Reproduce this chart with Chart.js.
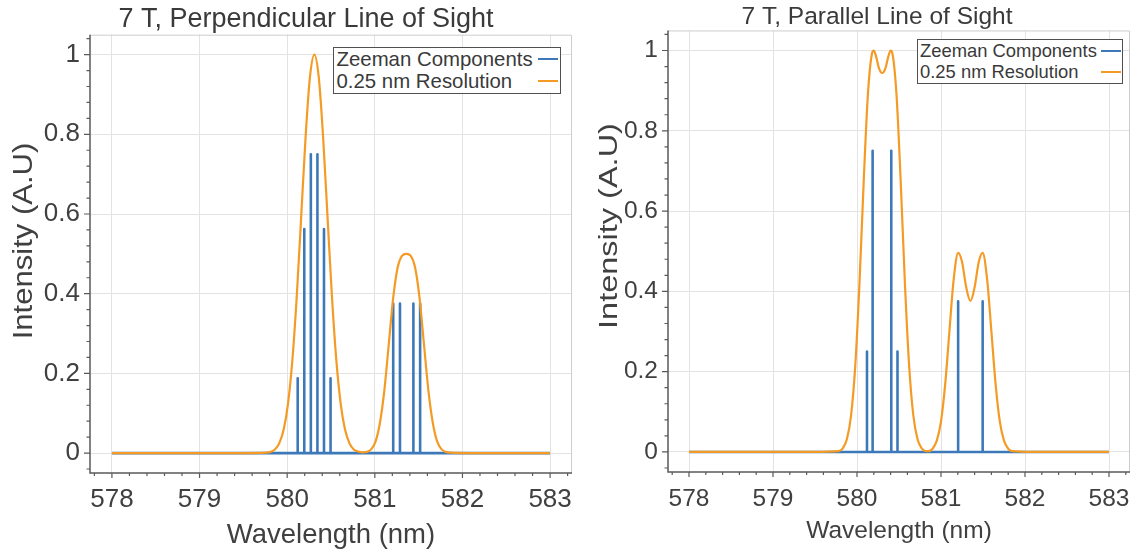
<!DOCTYPE html>
<html>
<head>
<meta charset="utf-8">
<script src="https://cdn.jsdelivr.net/npm/chart.js@4.4.1/dist/chart.umd.min.js"></script>
<style>
  html, body { margin: 0; padding: 0; background: #fff; overflow: hidden; width: 1145px; height: 554px; }
  canvas { position: absolute; top: 0; }
  #chartL { left: 0; }
  #chartR { left: 590px; }
  .legend { position: absolute; box-sizing: border-box; border: 1.5px solid #505050; background: #fff;
            font-family: "Liberation Sans", Arial, sans-serif; color: #3a3a3a; }
  .legend .row { display: flex; align-items: center; justify-content: space-between; white-space: nowrap; }
  .legend .swatch { display: inline-block; width: 20px; height: 2px; }
  #legendL { left: 333px; top: 47px; width: 228px; font-size: 20.4px; line-height: 22px; padding: 0 2px 1px 2.5px; }
  #legendR { left: 917px; top: 39px; width: 206px; font-size: 18.4px; line-height: 21px; padding: 0 1.5px 1px 2px; }
</style>
</head>
<body>
<canvas id="chartL" width="612" height="554"></canvas>
<canvas id="chartR" width="574" height="554"></canvas>
<div class="legend" id="legendL"></div>
<div class="legend" id="legendR"></div>
<script>
// tick labels
const xTicks = [578, 579, 580, 581, 582, 583];
const yTicks = [0, 0.2, 0.4, 0.6, 0.8, 1];

// 7 T, perpendicular: Zeeman components
const perpLineNm = [580.12, 580.195, 580.27, 580.345, 580.42, 580.495, 581.21, 581.287, 581.44, 581.517];
const perpLineInt = [0.1875, 0.5625, 0.75, 0.75, 0.5625, 0.1875, 0.375, 0.375, 0.375, 0.375];

// 7 T, perpendicular: 0.25 nm resolution
const perpResNm = [578, 579.5, 579.76, 579.81, 579.86, 579.91, 579.96, 580.01, 580.06, 580.11, 580.16, 580.21,
  580.26, 580.31, 580.36, 580.41, 580.46, 580.51, 580.56, 580.61, 580.66, 580.71, 580.76, 580.81,
  580.86, 580.91, 580.96, 581.01, 581.06, 581.11, 581.16, 581.21, 581.26, 581.31, 581.36, 581.41,
  581.46, 581.51, 581.56, 581.61, 581.66, 581.71, 581.76, 581.81, 581.86, 582.1, 583];
const perpResInt = [0, 0, 0.001, 0.003, 0.009, 0.025, 0.059, 0.125, 0.235, 0.396, 0.594, 0.793,
  0.944, 1, 0.944, 0.793, 0.594, 0.396, 0.235, 0.125, 0.059, 0.025, 0.009, 0.004,
  0.002, 0.003, 0.01, 0.03, 0.078, 0.16, 0.275, 0.39, 0.465, 0.495, 0.5, 0.495,
  0.465, 0.39, 0.275, 0.16, 0.078, 0.03, 0.01, 0.003, 0.001, 0, 0];

// 7 T, parallel: Zeeman components
const paraLineNm = [580.119, 580.186, 580.408, 580.482, 581.204, 581.496];
const paraLineInt = [0.25, 0.75, 0.75, 0.25, 0.375, 0.375];

// 7 T, parallel: 0.25 nm resolution
const paraResNm = [578, 579.5, 579.78, 579.83, 579.88, 579.93, 579.98, 580.03, 580.08, 580.13, 580.18, 580.2,
  580.23, 580.26, 580.3, 580.34, 580.37, 580.4, 580.42, 580.47, 580.52, 580.57, 580.62, 580.67,
  580.72, 580.77, 580.82, 580.85, 580.9, 580.95, 581.0, 581.05, 581.1, 581.15, 581.204, 581.25,
  581.3, 581.35, 581.4, 581.45, 581.496, 581.55, 581.6, 581.65, 581.7, 581.75, 581.8, 581.85, 582.1, 583];
const paraResInt = [0, 0, 0.002, 0.009, 0.032, 0.092, 0.217, 0.422, 0.675, 0.891, 0.994, 1,
  0.983, 0.957, 0.944, 0.957, 0.983, 1, 0.994, 0.891, 0.675, 0.422, 0.217, 0.092,
  0.032, 0.009, 0.002, 0.002, 0.008, 0.028, 0.076, 0.169, 0.3, 0.428, 0.496, 0.474,
  0.41, 0.376, 0.41, 0.474, 0.496, 0.428, 0.3, 0.169, 0.076, 0.028, 0.008, 0.002, 0, 0];

const FONT = '"Liberation Sans", Arial, sans-serif';
const BLUE = '#3d79b9';
const ORANGE = '#f49b25';
const TEXT = '#404040';

Chart.defaults.font.family = FONT;
Chart.defaults.color = TEXT;

// sticks: baseline at 0 with one vertical line per component
function stickPoints(nm, val) {
  const pts = [{ x: xTicks[0], y: 0 }];
  nm.forEach((w, i) => {
    pts.push({ x: w, y: 0 }, { x: w, y: val[i] }, { x: w, y: 0 });
  });
  pts.push({ x: xTicks[xTicks.length - 1], y: 0 });
  return pts;
}

function curvePoints(nm, val) {
  return nm.map((w, i) => ({ x: w, y: val[i] }));
}

// frame, spines, major/minor ticks and the rotated y title
const frameAxes = {
  id: 'frameAxes',
  afterDraw(chart, args, o) {
    const { ctx, chartArea: a, scales: { x, y } } = chart;
    ctx.save();
    ctx.strokeStyle = '#cdcdcd';
    ctx.lineWidth = 1;
    ctx.beginPath();
    ctx.moveTo(a.left, a.top + 0.5);
    ctx.lineTo(a.right - 0.5, a.top + 0.5);
    ctx.lineTo(a.right - 0.5, a.bottom);
    ctx.stroke();

    ctx.strokeStyle = '#5a5a5a';
    ctx.lineWidth = 1.5;
    ctx.beginPath();
    ctx.moveTo(a.left, a.top);
    ctx.lineTo(a.left, a.bottom);
    ctx.lineTo(a.right, a.bottom);
    ctx.stroke();

    ctx.lineWidth = 1.2;
    ctx.beginPath();
    for (let v = 577.8; v < x.max; v += 0.2) {
      const px = x.getPixelForValue(v);
      const major = Math.abs(v - Math.round(v)) < 1e-6;
      ctx.moveTo(px, a.bottom);
      ctx.lineTo(px, a.bottom + (major ? 5 : 3));
    }
    for (let v = -0.04; v < y.max; v += 0.04) {
      const py = y.getPixelForValue(v);
      const major = Math.abs(v * 5 - Math.round(v * 5)) < 1e-6;
      ctx.moveTo(a.left, py);
      ctx.lineTo(a.left - (major ? 6 : 3.5), py);
    }
    ctx.stroke();

    ctx.translate(o.titleX, o.titleY);
    ctx.rotate(-Math.PI / 2);
    ctx.scale(o.stretch, 1);
    ctx.font = o.titleSize + 'px ' + FONT;
    ctx.fillStyle = TEXT;
    ctx.textAlign = 'center';
    ctx.textBaseline = 'middle';
    ctx.fillText(o.text, 0, 0);
    ctx.restore();
  }
};

function makeChart(id, cfg) {
  const ctx = document.getElementById(id).getContext('2d');
  return new Chart(ctx, {
    type: 'scatter',
    data: {
      datasets: [{
        label: 'Zeeman Components',
        data: stickPoints(cfg.lineNm, cfg.lineInt),
        showLine: true,
        borderColor: BLUE,
        borderWidth: 2.6,
        borderJoinStyle: 'round',
        pointRadius: 0,
        order: 2
      }, {
        label: '0.25 nm Resolution',
        data: curvePoints(cfg.resNm, cfg.resInt),
        showLine: true,
        borderColor: ORANGE,
        borderWidth: 2.2,
        cubicInterpolationMode: 'monotone',
        pointRadius: 0,
        order: 1
      }]
    },
    options: {
      responsive: false,
      animation: false,
      events: [],
      layout: { padding: 0 },
      plugins: {
        legend: { display: false },
        tooltip: { enabled: false },
        title: {
          display: true,
          text: cfg.title,
          color: '#3a3a3a',
          font: { size: cfg.titleSize, weight: 'normal', lineHeight: 1.1 },
          padding: { top: cfg.titlePad, bottom: 0 }
        },
        frameAxes: {
          text: 'Intensity (A.U)',
          titleX: cfg.yTitleX,
          titleY: cfg.yTitleY,
          titleSize: cfg.yTitleSize,
          stretch: cfg.yTitleStretch
        }
      },
      scales: {
        x: {
          type: 'linear',
          min: 577.75,
          max: 583.25,
          afterBuildTicks: s => { s.ticks = xTicks.map(v => ({ value: v })); },
          afterFit: s => { s.height = cfg.xHeight; },
          ticks: {
            autoSkip: false,
            maxRotation: 0,
            padding: cfg.xTickPad,
            color: TEXT,
            font: { size: cfg.tickSize },
            callback: v => String(v)
          },
          grid: { color: '#e3e3e3', drawTicks: false },
          border: { display: false },
          title: {
            display: true,
            text: 'Wavelength (nm)',
            color: TEXT,
            font: { size: cfg.xTitleSize },
            padding: { top: 0, bottom: cfg.xTitlePad }
          }
        },
        y: {
          type: 'linear',
          min: -0.05,
          max: 1.05,
          afterBuildTicks: s => { s.ticks = yTicks.map(v => ({ value: v })); },
          afterFit: s => { s.width = cfg.yWidth; },
          ticks: {
            padding: 10,
            color: TEXT,
            font: { size: cfg.tickSize },
            callback: v => String(v)
          },
          grid: { color: '#e3e3e3', drawTicks: false },
          border: { display: false }
        },
        filler: {
          type: 'linear',
          position: 'right',
          afterFit: s => { s.width = cfg.rightPad; },
          ticks: { display: false },
          grid: { display: false, drawTicks: false },
          border: { display: false }
        }
      }
    },
    plugins: [frameAxes]
  });
}

function buildLegend(id, chart) {
  const el = document.getElementById(id);
  chart.data.datasets.forEach(ds => {
    const row = document.createElement('div');
    row.className = 'row';
    const t = document.createElement('span');
    t.textContent = ds.label;
    const sw = document.createElement('span');
    sw.className = 'swatch';
    sw.style.background = ds.borderColor;
    row.append(t, sw);
    el.appendChild(row);
  });
}

const perpChart = makeChart('chartL', {
  title: '7 T, Perpendicular Line of Sight',
  titleSize: 27, titlePad: 5,
  lineNm: perpLineNm, lineInt: perpLineInt,
  resNm: perpResNm, resInt: perpResInt,
  tickSize: 26, xTickPad: 11, xHeight: 81,
  xTitleSize: 27.5, xTitlePad: 2.5,
  yWidth: 90, rightPad: 40,
  yTitleX: 25, yTitleY: 241, yTitleSize: 27, yTitleStretch: 1.15
});

const paraChart = makeChart('chartR', {
  title: '7 T, Parallel Line of Sight',
  titleSize: 24.5, titlePad: 3.5,
  lineNm: paraLineNm, lineInt: paraLineInt,
  resNm: paraResNm, resInt: paraResInt,
  tickSize: 24.5, xTickPad: 13, xHeight: 82,
  xTitleSize: 24.5, xTitlePad: 8,
  yWidth: 78, rightPad: 34,
  yTitleX: 20, yTitleY: 226, yTitleSize: 26, yTitleStretch: 1.25
});

buildLegend('legendL', perpChart);
buildLegend('legendR', paraChart);
</script>
</body>
</html>
